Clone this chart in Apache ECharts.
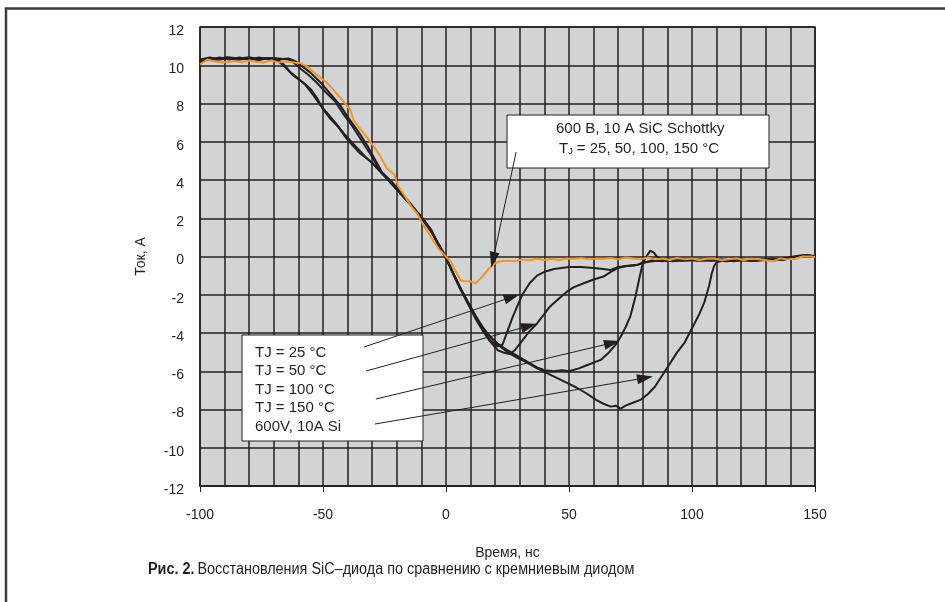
<!DOCTYPE html>
<html>
<head>
<meta charset="utf-8">
<script src="https://cdn.jsdelivr.net/npm/echarts@6/dist/echarts.min.js"></script>
<style>
html,body{margin:0;padding:0;background:#fff;}
#main{width:945px;height:602px;}
</style>
</head>
<body>
<div id="main"></div>
<script>
// ток SiC диода Шоттки (оранжевая кривая), [время нс, ток А]
var sicSchottky = [[-100,10.05],[-97,10.3],[-94,10.2],[-90,10.15],[-86,10.22],[-83,10.15],[-80,10.25],[-77,10.18],[-74,10.15],[-71,10.25],[-68,10.15],[-65,10.2],[-62,10.15],[-59,10.1],[-56,9.9],[-53,9.55],[-50,9.25],[-47,8.9],[-44,8.45],[-41,8.0],[-39,7.7],[-37.5,7.1],[-35,6.7],[-32,6.2],[-29,5.7],[-27,5.3],[-24,4.6],[-21,4.3],[-19.5,3.7],[-17,3.2],[-14,2.6],[-11.5,2.2],[-9,1.6],[-6,1.0],[-3,0.4],[0,0.0],[2,-0.3],[4,-0.8],[6,-1.25],[8,-1.3],[10,-1.3],[12,-1.4],[14,-1.15],[16,-0.85],[18,-0.55],[20,-0.35],[22,-0.25],[25,-0.22],[28,-0.25],[31,-0.15],[34,-0.2],[37,-0.12],[40,-0.18],[43,-0.12],[46,-0.2],[49,-0.1],[52,-0.12],[55,-0.08],[58,-0.15],[61,-0.1],[64,-0.12],[67,-0.08],[70,-0.15],[73,-0.05],[76,-0.1],[79,-0.15],[82,-0.05],[85,-0.15],[88,-0.1],[91,-0.18],[94,-0.08],[97,-0.15],[100,-0.1],[103,-0.2],[106,-0.12],[109,-0.1],[112,-0.2],[115,-0.15],[118,-0.1],[121,-0.18],[124,-0.12],[127,-0.15],[130,-0.2],[133,-0.25],[136,-0.1],[139,-0.15],[142,-0.12],[145,0.0],[148,0.0],[150,-0.03]];

// кремниевый диод 600V 10A при разных TJ
var si25 = [[-100,10.15],[-97,10.35],[-93,10.3],[-89,10.42],[-85,10.3],[-81,10.38],[-77,10.3],[-73,10.38],[-70,10.3],[-68,10.2],[-65,9.85],[-62,9.45],[-58,9.1],[-55,8.75],[-52.5,8.3],[-50,7.7],[-47,7.2],[-44,6.8],[-40,6.1],[-35,5.4],[-30,4.9],[-25,4.2],[-20,3.5],[-15,2.8],[-10,2.1],[-6,1.4],[-3,0.6],[0,-0.1],[3,-0.9],[6,-1.7],[9,-2.4],[12,-3.1],[15,-3.8],[18,-4.4],[21,-4.7],[23,-4.6],[25,-3.9],[27,-3.2],[29,-2.6],[31,-2.0],[34,-1.4],[37,-1.0],[40,-0.8],[44,-0.65],[50,-0.55],[55,-0.55],[60,-0.6],[64,-0.65],[67,-0.7],[70,-0.55],[74,-0.5],[78,-0.45],[80,-0.3],[84,-0.25],[88,-0.2],[92,-0.25],[96,-0.2],[100,-0.18],[104,-0.22],[108,-0.2],[112,-0.15],[116,-0.2],[120,-0.18],[124,-0.22],[128,-0.15],[132,-0.2],[136,-0.12],[140,-0.05],[144,0.02],[147,0.05],[150,0.0]];
var si50 = [[-100,10.2],[-96,10.3],[-92,10.4],[-88,10.3],[-84,10.4],[-80,10.3],[-76,10.4],[-72,10.3],[-69,10.35],[-66,10.05],[-63,9.6],[-60,9.3],[-57,8.95],[-54,8.45],[-51,7.9],[-48,7.45],[-45,7.0],[-41,6.35],[-37,5.8],[-33,5.25],[-29,4.75],[-25,4.2],[-20,3.5],[-15,2.8],[-10,2.05],[-6,1.35],[-3,0.6],[0,-0.1],[3,-0.95],[6,-1.75],[9,-2.5],[12,-3.25],[15,-3.9],[18,-4.45],[21,-4.9],[24,-5.05],[26,-5.1],[28,-4.9],[31,-4.4],[34,-3.9],[37,-3.5],[40,-3.0],[42,-2.65],[45,-2.3],[49,-1.85],[52,-1.6],[56,-1.4],[60,-1.2],[64,-1.05],[67,-0.8],[70,-0.6],[73,-0.5],[77,-0.45],[80,-0.35],[84,-0.2],[88,-0.25],[92,-0.18],[96,-0.22],[100,-0.2],[104,-0.15],[108,-0.22],[112,-0.18],[116,-0.2],[120,-0.15],[124,-0.2],[128,-0.18],[132,-0.12],[136,-0.15],[140,-0.02],[144,0.05],[147,0.08],[150,0.02]];
var si100 = [[-100,10.25],[-96,10.35],[-92,10.3],[-88,10.38],[-84,10.3],[-80,10.35],[-76,10.28],[-72,10.38],[-68,10.3],[-64,10.35],[-61,10.2],[-58,9.9],[-55,9.6],[-51,9.1],[-47,8.5],[-43,7.9],[-40,7.3],[-36,6.6],[-32,5.8],[-29,5.1],[-26,4.4],[-22,3.9],[-18,3.3],[-14,2.7],[-10,2.0],[-6,1.3],[-3,0.6],[0,-0.05],[3,-0.9],[6,-1.7],[9,-2.4],[12,-3.1],[15,-3.7],[18,-4.2],[21,-4.55],[25,-4.9],[29,-5.2],[33,-5.5],[37,-5.8],[40,-5.95],[44,-6.0],[47,-5.95],[50,-6.0],[54,-5.85],[57,-5.7],[60,-5.55],[63,-5.4],[66,-5.05],[69,-4.6],[71,-4.2],[73,-3.7],[75,-3.1],[76,-2.6],[77,-2.1],[78,-1.5],[79,-0.9],[80,-0.35],[81.5,0.0],[83,0.3],[84.5,0.2],[86,-0.05],[90,-0.15],[94,-0.2],[98,-0.15],[102,-0.22],[106,-0.18],[110,-0.2],[114,-0.25],[118,-0.18],[122,-0.2],[126,-0.22],[130,-0.15],[134,-0.2],[138,-0.1],[142,-0.05],[146,0.05],[150,0.0]];
var si150 = [[-100,10.3],[-96,10.4],[-92,10.32],[-88,10.4],[-84,10.35],[-80,10.42],[-76,10.3],[-72,10.38],[-68,10.35],[-64,10.3],[-62,10.15],[-59,9.8],[-56,9.5],[-53,9.15],[-49,8.6],[-45,8.1],[-42,7.5],[-38,6.8],[-34,6.0],[-30,5.2],[-27,4.5],[-23,4.0],[-19,3.4],[-15,2.8],[-11,2.2],[-7,1.5],[-3,0.65],[0,0.0],[3,-0.9],[6,-1.7],[9,-2.45],[12,-3.15],[15,-3.75],[18,-4.2],[21,-4.6],[25,-5.0],[29,-5.3],[33,-5.55],[37,-5.85],[41,-6.1],[45,-6.35],[49,-6.6],[53,-6.85],[57,-7.15],[61,-7.5],[64,-7.7],[67,-7.85],[69,-7.8],[71,-7.95],[73,-7.8],[76,-7.65],[79,-7.5],[82,-7.2],[85,-6.8],[88,-6.2],[91,-5.6],[94,-5.0],[97,-4.5],[99,-4.0],[101,-3.5],[103,-3.0],[105,-2.4],[107,-1.5],[108,-0.9],[109,-0.5],[110,-0.3],[113,-0.2],[117,-0.25],[121,-0.18],[125,-0.22],[129,-0.2],[133,-0.15],[137,-0.18],[141,-0.05],[145,0.05],[148,0.02],[150,0.0]];

// стрелки-выноски: [от, до] в координатах графика
var arrowSchottky = [[28.5,5.46],[19.1,-0.18]];
var arrowsSi = [
    [[-33.3,-4.73],[26.8,-2.12]],
    [[-32.5,-5.99],[33.7,-3.63]],
    [[-28.5,-7.45],[67.5,-4.52]],
    [[-28.9,-8.76],[80.9,-6.35]]
];

var xTicks = [-100, 150, 50];   // min, max, шаг подписей
var yTicks = [-12, 12, 2];

var siLabels = ['TJ = 25 °C','TJ = 50 °C','TJ = 100 °C','TJ = 150 °C','600V, 10A Si'];

var FONT = 'Liberation Sans, Arial, sans-serif';
var INK = '#231f20';

function blackLine(name, data){
    return {
        name: name, type: 'line', data: data, showSymbol: false,
        lineStyle: {color: INK, width: 2}, z: 3, silent: true
    };
}

var arrowData = [[{coord: arrowSchottky[0]}, {coord: arrowSchottky[1]}]];
arrowsSi.forEach(function(a){
    arrowData.push([{coord: a[0]}, {coord: a[1]}]);
});

var boxTexts = [];
siLabels.forEach(function(t, i){
    boxTexts.push({
        type: 'text', left: 255, top: 345 + i*18.6, z: 6,
        style: {text: t, fill: INK, font: '15px ' + FONT}
    });
});

var myChart = echarts.init(document.getElementById('main'));
var option = {
    animation: false,
    backgroundColor: '#fff',
    grid: {
        left: 200, right: 130, top: 27, bottom: 116,
        show: true, backgroundColor: '#d1d3d4', borderColor: INK, borderWidth: 1.5
    },
    xAxis: {
        type: 'value', min: xTicks[0], max: xTicks[1], interval: xTicks[2],
        name: 'Время, нс', nameLocation: 'middle', nameGap: 60,
        nameTextStyle: {fontFamily: FONT, fontSize: 14, color: INK},
        axisLine: {show: true, onZero: false, lineStyle: {color: INK, width: 1.5}},
        axisTick: {show: true, length: 6, lineStyle: {color: INK}},
        axisLabel: {fontFamily: FONT, fontSize: 14, color: INK, margin: 22},
        splitLine: {show: true, lineStyle: {color: INK, width: 1.5}},
        minorTick: {show: false, splitNumber: 5},
        minorSplitLine: {show: true, lineStyle: {color: INK, width: 1.5}}
    },
    yAxis: {
        type: 'value', min: yTicks[0], max: yTicks[1], interval: yTicks[2],
        name: 'Ток, А', nameLocation: 'middle', nameGap: 52,
        nameTextStyle: {fontFamily: FONT, fontSize: 14, color: INK},
        axisLine: {show: false},
        axisTick: {show: false},
        axisLabel: {fontFamily: FONT, fontSize: 14, color: INK, margin: 16, verticalAlign: 'top', lineHeight: 8},
        splitLine: {show: true, lineStyle: {color: INK, width: 1.5}}
    },
    series: [
        blackLine('TJ = 25 °C', si25),
        blackLine('TJ = 50 °C', si50),
        blackLine('TJ = 100 °C', si100),
        blackLine('TJ = 150 °C', si150),
        {
            name: '600 В, 10 A SiC Schottky', type: 'line', data: sicSchottky,
            showSymbol: false, silent: true, z: 4,
            lineStyle: {color: '#f7941d', width: 2}
        },
        {
            // выноски
            type: 'line', data: [], z: 10, silent: true,
            markLine: {
                silent: true, animation: false,
                symbol: ['none', 'triangle'], symbolSize: [10, 16],
                label: {show: false},
                lineStyle: {color: INK, width: 1, type: 'solid'},
                itemStyle: {color: INK},
                emphasis: {disabled: true},
                data: arrowData
            }
        }
    ],
    graphic: [
        {
            type: 'polyline', z: 1,
            shape: {points: [[6, 602], [6, 8.5], [945, 8.5]]},
            style: {stroke: '#3b3b3b', lineWidth: 2.5, fill: null}
        },
        {
            type: 'rect', z: 5,
            shape: {x: 507, y: 115, width: 262, height: 53},
            style: {fill: '#fff', stroke: INK, lineWidth: 1}
        },
        {
            type: 'text', z: 6, left: 556, top: 121,
            style: {text: '600 В, 10 A SiC Schottky', fill: INK, font: '15px ' + FONT}
        },
        {
            type: 'text', z: 6, left: 559, top: 141,
            style: {
                text: '{n|T}{s|J}{n| = 25, 50, 100, 150 °C}',
                rich: {
                    n: {fontFamily: FONT, fontSize: 15, fill: INK, color: INK},
                    s: {fontFamily: FONT, fontSize: 9, fill: INK, color: INK, verticalAlign: 'bottom', padding: [6, 0, 0, 0]}
                }
            }
        },
        {
            type: 'rect', z: 5,
            shape: {x: 242, y: 335, width: 181, height: 106},
            style: {fill: '#fff', stroke: INK, lineWidth: 1}
        }
    ].concat(boxTexts).concat([
        {
            type: 'text', z: 6, x: 148, y: 562, scaleX: 0.9,
            style: {
                x: 0, y: 0,
                text: '{b|Рис. 2.} {r|Восстановления SiC–диода по сравнению с кремниевым диодом}',
                rich: {
                    b: {fontFamily: FONT, fontSize: 16, fontWeight: 'bold', fill: INK, color: INK},
                    r: {fontFamily: FONT, fontSize: 16, fill: INK, color: INK}
                }
            }
        }
    ])
};
myChart.setOption(option);
</script>
</body>
</html>
